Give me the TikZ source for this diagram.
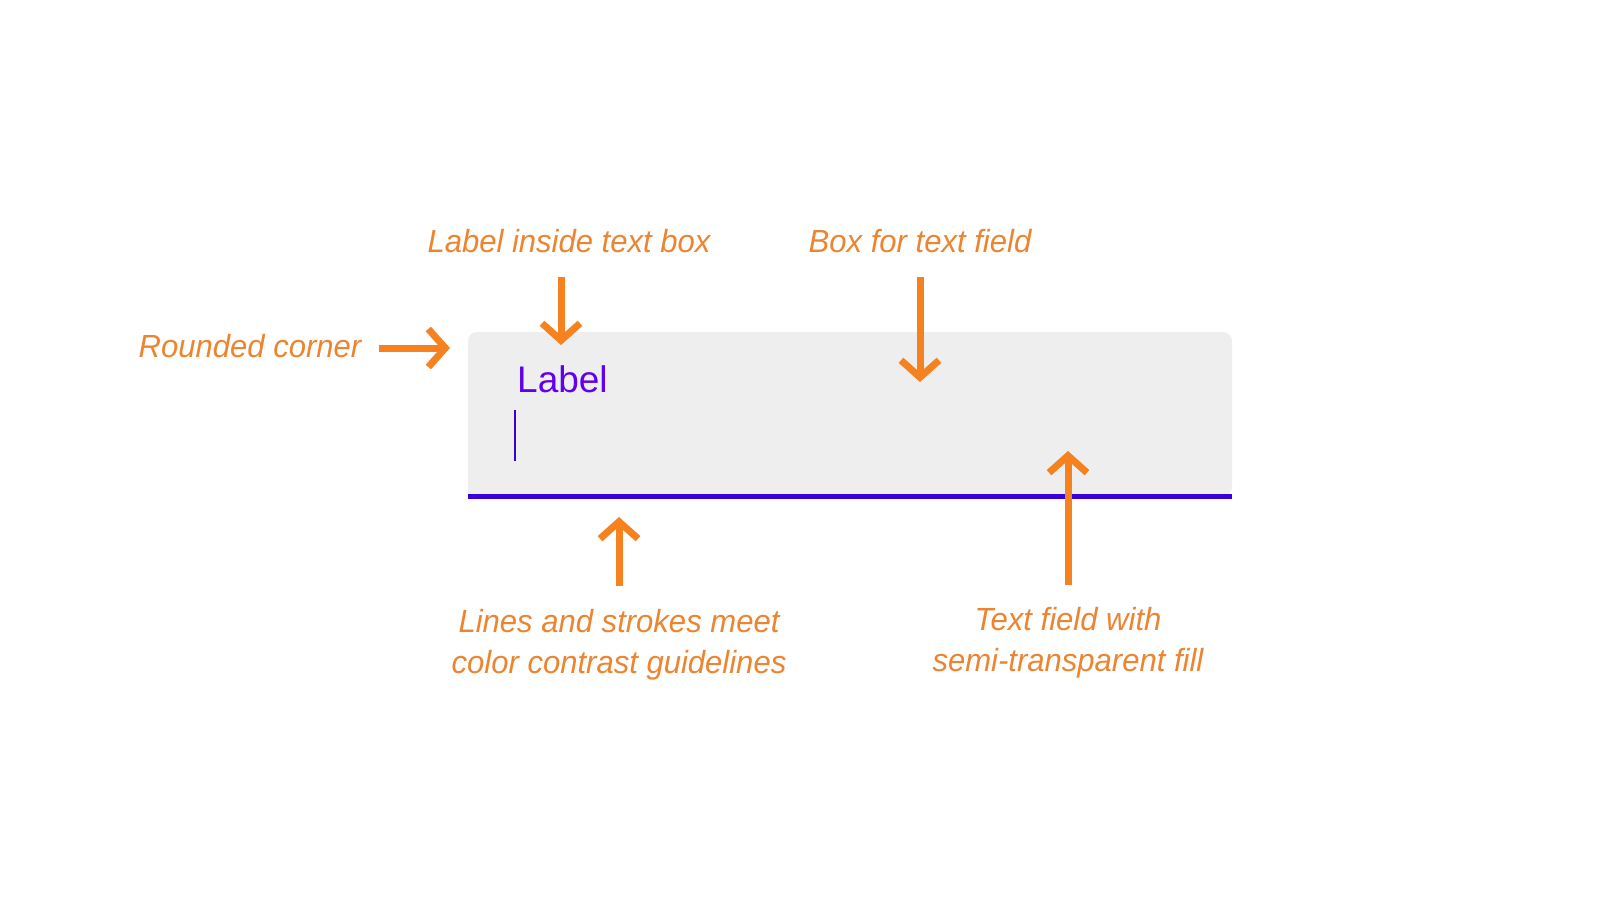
\documentclass[tikz,border=0pt]{standalone}
\usepackage{fontspec}
\usepackage{xcolor}
\usepackage{tikz}
\usetikzlibrary{arrows.meta,positioning,calc}
\setmainfont{Liberation Sans}
\newfontfamily\notefont{Liberation Sans}[FakeStretch=0.97]
\definecolor{fieldgray}{HTML}{EEEEEE}
\definecolor{fieldline}{HTML}{3A00D8}
\definecolor{fieldlabel}{HTML}{6200EE}
\definecolor{noteorange}{HTML}{F5821F}
\definecolor{notetext}{HTML}{EC8430}
\tikzset{
  fieldbox/.style={fill=fieldgray,draw=none},
  fieldrule/.style={draw=fieldline,line width=5pt},
  fieldtext/.style={text=fieldlabel,font=\fontsize{37}{44}\selectfont,inner sep=0pt,anchor=base west},
  notelbl/.style={text=notetext,font=\notefont\itshape\fontsize{32}{41}\selectfont,inner sep=0pt,align=center,anchor=base},
  notearrow/.style={-{Straight Barb[length=17pt,width=38pt]},draw=noteorange,line width=7pt}
}
\begin{document}
\begin{tikzpicture}[x=1pt,y=-1pt]
\useasboundingbox (0,0) rectangle (1600,900);
% text field
\fill[fieldbox,rounded corners=9pt] (468,496) -- (468,332) -- (1232,332) -- (1232,496) [sharp corners] -- cycle;
\coordinate (fl) at (468,496.5);
\coordinate (fr) at (1232,496.5);
\draw[fieldrule] (fl) -- (fr);
\node[fieldtext] (label) at (517,392) {Label};
\coordinate (curtop) at (515,410);
\coordinate (curbot) at (515,461);
\draw[draw=fieldline,line width=2pt] (curtop) -- (curbot);
% notes
\node[notelbl] (ncorner) at (250,357) {Rounded corner};
\node[notelbl] (ninside) at (569,252) {Label inside text box};
\node[notelbl] (nbox) at (920,252) {Box for text field};
\node[notelbl] (nlines) at (619,673) {Lines and strokes meet\\color contrast guidelines};
\node[notelbl] (nfill) at (1068,671) {Text field with\\semi-transparent fill};
% arrows
\coordinate (acorner0) at (379,348); \coordinate (acorner1) at (450,348);
\coordinate (ainside0) at (561,277); \coordinate (ainside1) at (561,345);
\coordinate (abox0) at (920,277); \coordinate (abox1) at (920,382);
\coordinate (alines0) at (619,586); \coordinate (alines1) at (619,517);
\coordinate (afill0) at (1068,585); \coordinate (afill1) at (1068,451);
\foreach \a in {acorner,ainside,abox,alines,afill}{\draw[notearrow] (\a0) -- (\a1);}
\end{tikzpicture}
\end{document}
